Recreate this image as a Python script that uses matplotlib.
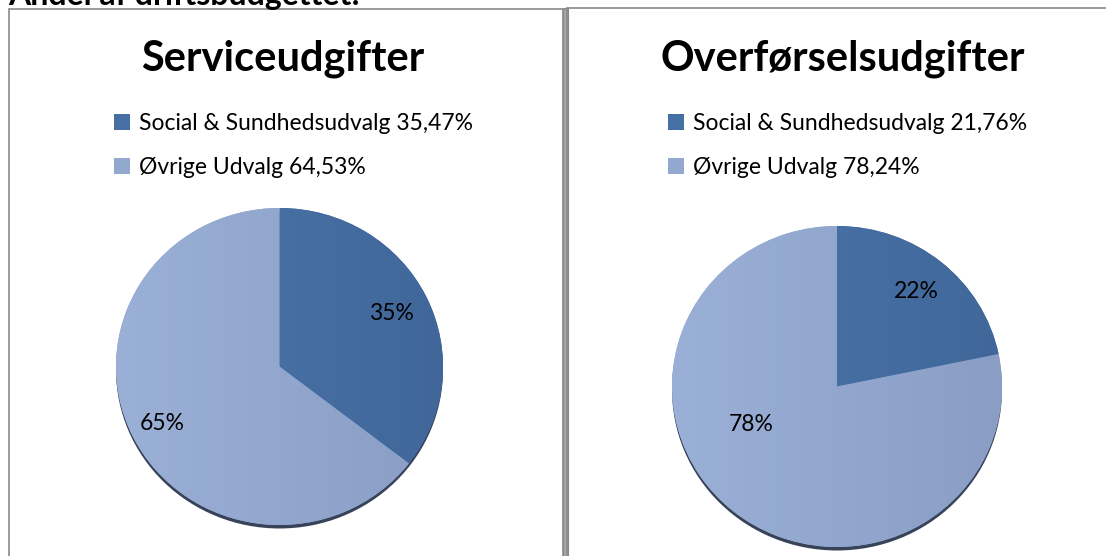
import matplotlib
matplotlib.use("Agg")
import matplotlib.pyplot as plt
import numpy as np
from matplotlib.patches import Rectangle, Ellipse
from matplotlib.colors import LinearSegmentedColormap

# ---- data ----
page_title = "Andel af driftsbudgettet:"
chart_titles = ["Serviceudgifter", "Overførselsudgifter"]
categories = ["Social & Sundhedsudvalg", "Øvrige Udvalg"]
service_values = [35.47, 64.53]
transfer_values = [21.76, 78.24]
series = [service_values, transfer_values]

colors = ["#4670A3", "#93A8CF"]
grad_light = ["#4A76AB", "#9BB0D6"]
grad_dark = ["#41679A", "#8A9EC5"]

W, H = 1106, 556
DPI = 100
fig = plt.figure(figsize=(W / DPI, H / DPI), dpi=DPI)
fig.patch.set_facecolor("white")

FONT = "Lato"
plt.rcParams["font.family"] = [FONT, "DejaVu Sans"]


def px_rect(x0, y0, x1, y1):
    """figure pixel box (top-origin) -> [left, bottom, width, height] fraction"""
    return [x0 / W, (H - y1) / H, (x1 - x0) / W, (y1 - y0) / H]


# panel borders
fig.add_artist(Rectangle((8.5 / W, -0.01), (563 - 8.5) / W, (H - 9) / H + 0.01,
                         transform=fig.transFigure, fill=False, ec="#8a8a8a", lw=1.2))
fig.add_artist(Rectangle((563 / W, 0), 4.5 / W, (H - 8) / H, transform=fig.transFigure,
                         fc="#a6a6a6", ec="#888888", lw=0.8))
fig.add_artist(Rectangle((567 / W, -0.01), 0.6, (H - 8) / H + 0.01,
                         transform=fig.transFigure, fill=False, ec="#8a8a8a", lw=1.2))

# page heading (cut off by the top edge, as in the source)
fig.text(8 / W, (H - 5) / H, page_title, ha="left", va="baseline",
         fontsize=23, fontweight="bold", color="black")

pie_boxes = [(116, 208, 443, 525), (672, 226, 1002, 547)]
title_pos = [(283, 70), (843, 70)]
legend_pos = [(114, 113), (668, 113)]
# optional label placement overrides: (angle in degrees, radius)
label_polar = [[None, (-153.5, 0.80)], [None, (-155.5, 0.57)]]

for i, vals in enumerate(series):
    x0, y0, x1, y1 = pie_boxes[i]
    ax = fig.add_axes(px_rect(x0, y0, x1, y1))
    ax.axis("off")
    # shadow
    dy = 2 * 3.5 / (y1 - y0)
    ax.add_patch(Ellipse((0, -dy), 2.0, 2.0, fc="#38435a", ec="none", zorder=0, clip_on=False))
    wedges, texts, autotexts = ax.pie(
        vals, colors=colors, startangle=90, counterclock=False, radius=1,
        autopct="%.0f%%", pctdistance=0.76, frame=False,
        textprops=dict(fontsize=16.5, color="black", family=[FONT, "DejaVu Sans"]),
        wedgeprops=dict(linewidth=0))
    # gradient shading clipped to each wedge
    xs = np.linspace(0, 1, 256)
    for j, w in enumerate(wedges):
        cmap = LinearSegmentedColormap.from_list("g%d" % j, [grad_light[j], grad_dark[j]])
        im = ax.imshow(xs[None, :], cmap=cmap, extent=(-1, 1, -1, 1), aspect="auto",
                       zorder=1.5, interpolation="bilinear")
        im.set_clip_path(w)
    for j, t in enumerate(autotexts):
        t.set_zorder(3)
        if label_polar[i][j] is not None:
            a, r = label_polar[i][j]
            t.set_position((r * np.cos(np.radians(a)), r * np.sin(np.radians(a))))
    ax.set_aspect("auto")
    ax.set_xlim(-1, 1)
    ax.set_ylim(-1, 1)

    tx, ty = title_pos[i]
    fig.text(tx / W, (H - ty) / H, chart_titles[i], ha="center", va="baseline",
             fontsize=30, fontweight="bold", color="black")

    labels = ["%s %s%%" % (c, ("%.2f" % v).replace(".", ",")) for c, v in zip(categories, vals)]
    lx, ly = legend_pos[i]
    fig.legend(wedges, labels, loc="upper left",
               bbox_to_anchor=(lx / W, (H - ly) / H), frameon=False,
               prop=dict(family=[FONT, "DejaVu Sans"], size=16.5),
               handlelength=0.7, handleheight=0.7, handletextpad=0.4,
               labelspacing=1.0, borderpad=0, borderaxespad=0)

fig.savefig("out.png", dpi=DPI)
